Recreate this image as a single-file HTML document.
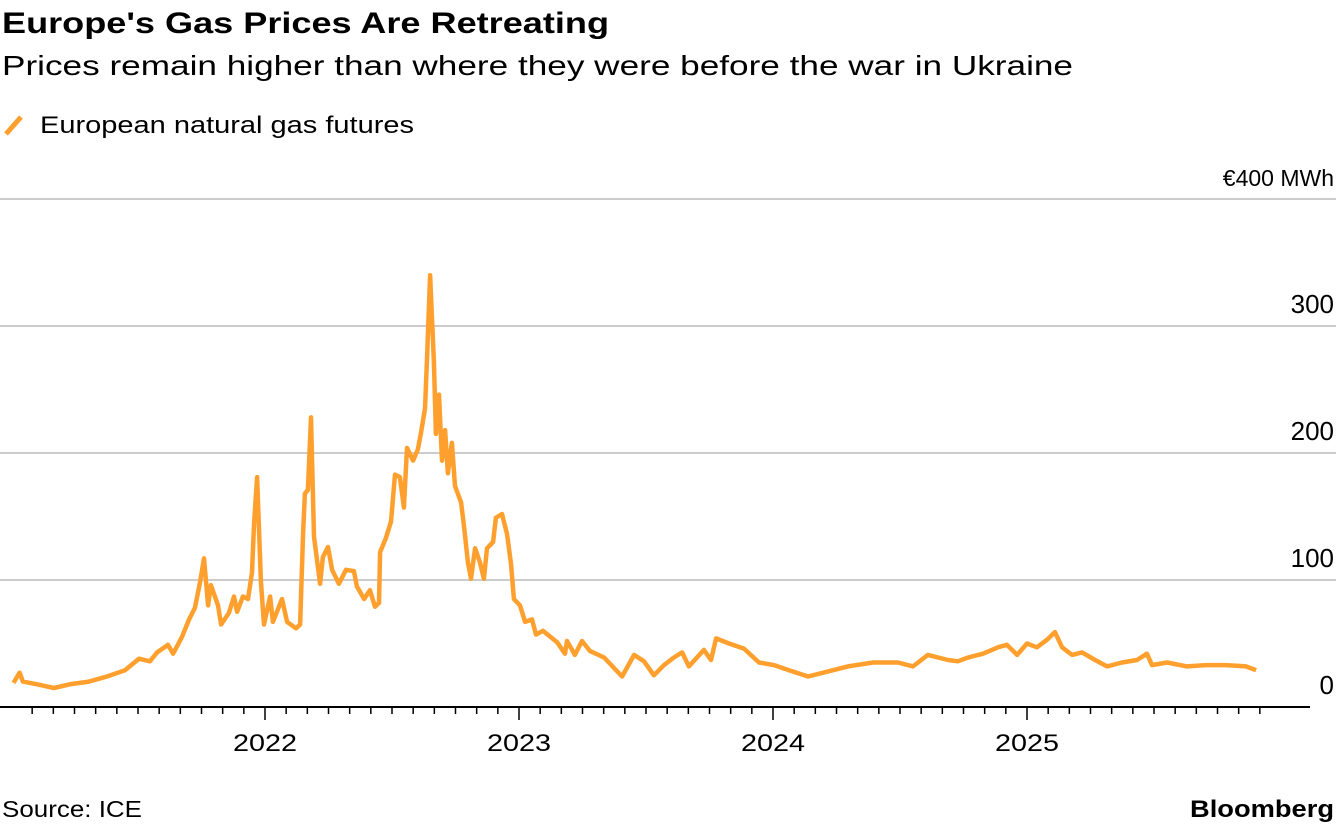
<!DOCTYPE html>
<html><head><meta charset="utf-8"><style>
body{margin:0;background:#fff;font-family:"Liberation Sans",sans-serif;}
svg{display:block}
</style></head><body>
<svg id="chart" width="1336" height="826">
<text x="2" y="33" font-size="30" font-weight="bold" fill="#000" textLength="607" lengthAdjust="spacingAndGlyphs">Europe's Gas Prices Are Retreating</text>
<text x="2" y="75" font-size="28" fill="#000" textLength="1071" lengthAdjust="spacingAndGlyphs">Prices remain higher than where they were before the war in Ukraine</text>
<line x1="6" y1="134" x2="21" y2="117" stroke="#FFA02E" stroke-width="5"/>
<text x="40" y="133" font-size="24" fill="#000" textLength="374" lengthAdjust="spacingAndGlyphs">European natural gas futures</text>
<g id="grid"></g><g id="xaxis"></g>
<path id="line" fill="none" stroke="#FFA02E" stroke-width="4.5" stroke-linejoin="round"/>
<text x="2" y="817" font-size="23" fill="#000" textLength="140" lengthAdjust="spacingAndGlyphs">Source: ICE</text>
<text x="1190" y="817" font-size="24" font-weight="bold" fill="#000" textLength="144" lengthAdjust="spacingAndGlyphs">Bloomberg</text>
</svg>
<script>
const yTicks=[0,100,200,300,400];
const yTickLabels=["0","100","200","300","€400 MWh"];
const yearLabels=[2022,2023,2024,2025];
const dates=[2021.010,2021.034,2021.047,2021.098,2021.169,2021.236,2021.307,2021.378,2021.449,2021.504,2021.547,2021.575,2021.618,2021.638,2021.673,2021.701,2021.724,2021.744,2021.760,2021.776,2021.787,2021.815,2021.827,2021.858,2021.878,2021.890,2021.913,2021.933,2021.949,2021.957,2021.969,2021.984,2021.996,2022.020,2022.031,2022.067,2022.087,2022.122,2022.138,2022.150,2022.157,2022.169,2022.181,2022.193,2022.217,2022.228,2022.248,2022.264,2022.291,2022.319,2022.350,2022.362,2022.390,2022.413,2022.433,2022.449,2022.453,2022.476,2022.496,2022.512,2022.531,2022.547,2022.559,2022.583,2022.602,2022.614,2022.630,2022.638,2022.650,2022.665,2022.673,2022.685,2022.697,2022.709,2022.720,2022.736,2022.748,2022.772,2022.783,2022.799,2022.811,2022.827,2022.846,2022.862,2022.874,2022.898,2022.909,2022.933,2022.953,2022.969,2022.980,2023.004,2023.024,2023.051,2023.067,2023.094,2023.150,2023.181,2023.189,2023.220,2023.248,2023.280,2023.335,2023.406,2023.453,2023.492,2023.531,2023.571,2023.610,2023.642,2023.669,2023.728,2023.756,2023.776,2023.827,2023.886,2023.945,2024.004,2024.063,2024.138,2024.217,2024.295,2024.394,2024.492,2024.551,2024.610,2024.689,2024.728,2024.768,2024.827,2024.886,2024.921,2024.961,2025.000,2025.039,2025.079,2025.110,2025.138,2025.177,2025.217,2025.268,2025.315,2025.374,2025.433,2025.472,2025.492,2025.551,2025.630,2025.705,2025.783,2025.862,2025.902];
const prices=[19,27,20,18,15,18,20,24,29,38,36,43,49,42,55,69,78,98,117,80,96,80,65,74,87,75,87,85,106,145,181,99,65,87,67,85,67,62,65,137,168,171,228,134,97,118,126,108,97,108,107,95,85,92,79,82,122,133,146,183,181,157,204,194,203,216,235,276,340,272,215,246,194,218,184,208,174,161,143,114,101,125,114,101,125,130,149,152,136,112,85,80,67,69,57,60,51,42,52,41,52,44,39,24,41,36,25,33,39,43,32,45,37,54,50,46,35,33,29,24,28,32,35,35,32,41,37,36,39,42,47,49,41,50,47,53,59,47,41,43,37,32,35,37,42,33,35,32,33,33,32,29];
const NS="http://www.w3.org/2000/svg";
const X=t=>265+(t-2022)*254;
const Y=v=>707-v*1.27;
const grid=document.getElementById('grid');
yTicks.forEach((v,i)=>{
  if(v>0){const l=document.createElementNS(NS,'line');
  l.setAttribute('x1',0);l.setAttribute('x2',1336);l.setAttribute('y1',Y(v));l.setAttribute('y2',Y(v));
  l.setAttribute('stroke','#cccccc');l.setAttribute('stroke-width',2);
  
  
  grid.appendChild(l);}
  const t=document.createElementNS(NS,'text');
  t.setAttribute('x',1334);t.setAttribute('y',Y(v)-13);t.setAttribute('text-anchor','end');
  t.setAttribute('font-size',v===400?23:26);t.textContent=yTickLabels[i];
  
  
  grid.appendChild(t);
});
const xa=document.getElementById('xaxis');
const ax=document.createElementNS(NS,'line');
ax.setAttribute('x1',0);ax.setAttribute('x2',1310);ax.setAttribute('y1',707);ax.setAttribute('y2',707);
ax.setAttribute('stroke','#000');ax.setAttribute('stroke-width',2);


xa.appendChild(ax);
for(let m=1;m<60;m++){
  const t=2021+m/12,x=X(t),yr=m%12===0;
  const l=document.createElementNS(NS,'line');
  l.setAttribute('x1',x);l.setAttribute('x2',x);l.setAttribute('y1',707);l.setAttribute('y2',yr?720:714);
  l.setAttribute('stroke','#000');l.setAttribute('stroke-width',1.5);
  
  
  xa.appendChild(l);
}
yearLabels.forEach(y=>{
  const t=document.createElementNS(NS,'text');
  t.setAttribute('x',X(y)-32);t.setAttribute('y',751);
  t.setAttribute('font-size',24);t.setAttribute('textLength',64);t.setAttribute('lengthAdjust','spacingAndGlyphs');
  t.textContent=y;
  
  
  xa.appendChild(t);
});
document.getElementById('line').setAttribute('d',dates.map((d,i)=>(i?'L':'M')+X(d).toFixed(1)+','+Y(prices[i]).toFixed(1)).join(''));
</script>
</body></html>
